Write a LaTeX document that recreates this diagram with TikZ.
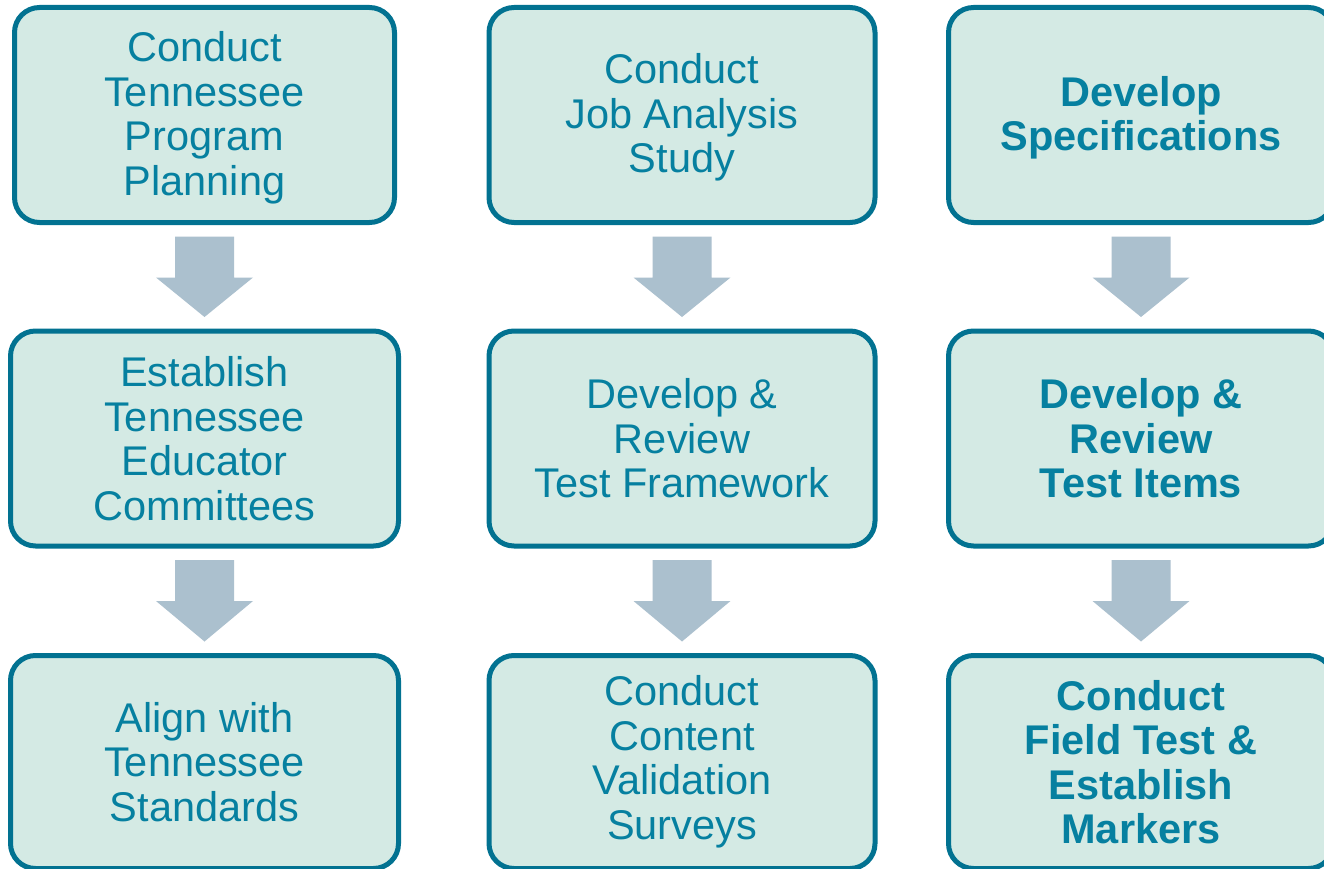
\documentclass[tikz,border=0pt]{standalone}
\usepackage{fontspec}
\setmainfont{Liberation Sans}
\usetikzlibrary{calc}
\definecolor{boxborder}{RGB}{2,114,145}
\definecolor{boxfill}{RGB}{212,234,228}
\definecolor{boxtext}{RGB}{6,128,160}
\definecolor{arrowfill}{RGB}{171,192,206}
\tikzset{
  stepbox/.style={draw=boxborder, fill=boxfill, line width=5pt, rounded corners=25pt,
    rectangle, inner sep=0pt, align=center, text=boxtext,
    font=\fontsize{41.5}{44.5}\selectfont},
  boldbox/.style={stepbox, font=\fontsize{41.5}{44.5}\selectfont\bfseries},
  flowarrow/.style={fill=arrowfill, draw=none}
}
\newcommand{\lowered}[1]{\raisebox{-4.5pt}[\height][\depth]{\begin{tabular}{@{}c@{}}#1\end{tabular}}}
\newcommand{\flowdown}[2]{%
  \fill[flowarrow] ($(#1.south)+(-29.5,11.5)$) -- ($(#1.south)+(29.5,11.5)$)
    -- ($(#1.south)+(29.5,52.5)$) -- ($(#1.south)+(48.5,52.5)$)
    -- ($(#2.north)+(0,-11.5)$)
    -- ($(#1.south)+(-48.5,52.5)$) -- ($(#1.south)+(-29.5,52.5)$) -- cycle;}
\begin{document}
\begin{tikzpicture}[x=1pt,y=-1pt]
\useasboundingbox (0,0) rectangle (1324,869);
\fill[white] (0,0) rectangle (1324,869);
\clip (0,0) rectangle (1324,869);
% column 1
\node[stepbox, minimum width=380pt, minimum height=215pt] (a1) at (204.5,115)
  {\lowered{Conduct\\Tennessee\\Program\\Planning}};
\node[stepbox, minimum width=388pt, minimum height=215pt] (a2) at (204.5,438.5)
  {Establish\\Tennessee\\Educator\\Committees};
\node[stepbox, minimum width=388pt, minimum height=213pt] (a3) at (204.5,762)
  {Align with\\Tennessee\\Standards};
% column 2
\node[stepbox, minimum width=386pt, minimum height=215pt] (b1) at (682,115)
  {\lowered{Conduct\\Job Analysis\\Study}};
\node[stepbox, minimum width=386pt, minimum height=215pt] (b2) at (682,438.5)
  {Develop \&\\Review\\Test Framework};
\node[stepbox, minimum width=386pt, minimum height=213pt] (b3) at (682,762)
  {Conduct\\Content\\Validation\\Surveys};
% column 3
\node[boldbox, minimum width=385pt, minimum height=215pt] (c1) at (1141,115)
  {\lowered{Develop\\Specifications}};
\node[boldbox, minimum width=385pt, minimum height=215pt] (c2) at (1141,438.5)
  {Develop \&\\Review\\Test Items};
\node[boldbox, minimum width=385pt, minimum height=213pt] (c3) at (1141,762)
  {Conduct\\Field Test \&\\Establish\\Markers};
% arrows
\flowdown{a1}{a2}
\flowdown{a2}{a3}
\flowdown{b1}{b2}
\flowdown{b2}{b3}
\flowdown{c1}{c2}
\flowdown{c2}{c3}
\end{tikzpicture}
\end{document}
